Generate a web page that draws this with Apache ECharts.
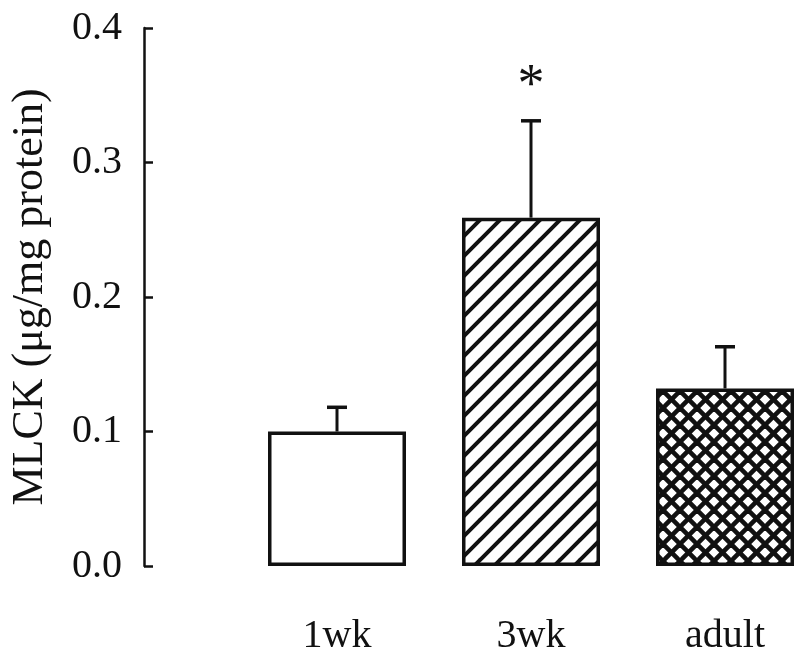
<!DOCTYPE html>
<html><head><meta charset="utf-8">
<script src="https://cdn.jsdelivr.net/npm/echarts@6/dist/echarts.min.js"></script>
<style>html,body{margin:0;padding:0;background:#fff;}#c{width:800px;height:663px;}</style>
</head><body><div id="c"></div>
<script>
var categories = ['1wk', '3wk', 'adult'];
var means = [0.100, 0.259, 0.132];
var upper = [0.118, 0.331, 0.163];
var marks = ['', '*', ''];
var yTicks = [0.0, 0.1, 0.2, 0.3, 0.4];
var yName = 'MLCK (\u03bcg/mg protein)';

function makeDiag(p, lw) {
  var c = document.createElement('canvas'); c.width = p; c.height = p;
  var g = c.getContext('2d'); g.fillStyle = '#fff'; g.fillRect(0,0,p,p);
  g.strokeStyle = '#111'; g.lineWidth = lw; g.lineCap = 'square';
  [-p, 0, p].forEach(function (o) { g.beginPath(); g.moveTo(o, p); g.lineTo(o + p, 0); g.stroke(); });
  return c;
}
function makeCross(p, lw) {
  var c = document.createElement('canvas'); c.width = p; c.height = p;
  var g = c.getContext('2d'); g.fillStyle = '#fff'; g.fillRect(0,0,p,p);
  g.strokeStyle = '#111'; g.lineWidth = lw;
  [-p, 0, p].forEach(function (o) {
    g.beginPath(); g.moveTo(o, p); g.lineTo(o + p, 0); g.stroke();
    g.beginPath(); g.moveTo(o, 0); g.lineTo(o + p, p); g.stroke();
  });
  return c;
}
var fills = ['#ffffff', {image: makeDiag(20, 4), repeat: 'repeat'}, {image: makeCross(17, 4.6), repeat: 'repeat'}];

var chart = echarts.init(document.getElementById('c'), null, {renderer: 'canvas'});
var font = '"Liberation Serif", "Times New Roman", serif';
chart.setOption({
  animation: false,
  backgroundColor: '#fff',
  grid: {left: 240, top: 28, width: 582, height: 538, containLabel: false, outerBoundsMode: 'none'},
  xAxis: {
    type: 'category', data: categories,
    axisLine: {show: false}, axisTick: {show: false},
    axisLabel: {color: '#111', fontFamily: font, fontSize: 40, margin: 50}
  },
  yAxis: {
    type: 'value', min: 0, max: 0.4, interval: 0.1, offset: 96,
    splitLine: {show: false},
    axisLine: {show: true, lineStyle: {color: '#111', width: 2.5}},
    axisTick: {show: true, inside: true, length: 9, lineStyle: {color: '#111', width: 2.5}},
    axisLabel: {color: '#111', fontFamily: font, fontSize: 40, margin: 22,
      formatter: function (v) { var i = yTicks.indexOf(Math.round(v * 10) / 10); return i >= 0 ? yTicks[i].toFixed(1) : ''; }},
    name: yName, nameLocation: 'middle', nameGap: 92,
    nameTextStyle: {color: '#111', fontFamily: font, fontSize: 44}
  },
  series: [
    {
      type: 'bar', barWidth: 138,
      data: means.map(function (v, i) {
        return {value: v, itemStyle: {color: fills[i], borderColor: '#111', borderWidth: 3.5}};
      })
    },
    {
      type: 'custom', z: 5,
      data: categories.map(function (c, i) { return [i, means[i], upper[i]]; }),
      renderItem: function (params, api) {
        var i = api.value(0);
        var b = api.coord([i, api.value(1)]);
        var t = api.coord([i, api.value(2)]);
        var children = [
          {type: 'line', shape: {x1: b[0], y1: b[1], x2: t[0], y2: t[1]}, style: {stroke: '#111', lineWidth: 3}},
          {type: 'line', shape: {x1: t[0] - 10, y1: t[1], x2: t[0] + 10, y2: t[1]}, style: {stroke: '#111', lineWidth: 3.5}}
        ];
        if (marks[i]) {
          children.push({type: 'text', style: {text: marks[i], x: t[0], y: t[1] - 34, align: 'center', verticalAlign: 'middle',
            font: '54px ' + font, fill: '#111'}});
        }
        return {type: 'group', children: children};
      }
    }
  ]
});
</script></body></html>
